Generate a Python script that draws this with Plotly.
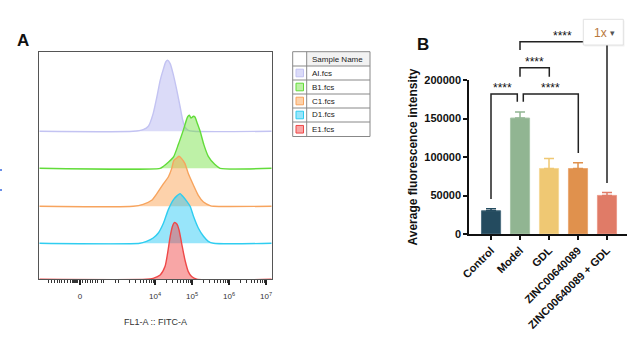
import math
import plotly.graph_objects as go

W, H = 634, 350

# ---------------- Panel A data (flow cytometry histograms) ----------------
samples = ["AI.fcs", "B1.fcs", "C1.fcs", "D1.fcs", "E1.fcs"]
# x in display decades (biexponential FL1-A scale), y = count
A_x = [3.41, 3.68, 3.82, 3.95, 4.05, 4.14, 4.23, 4.29, 4.34, 4.41, 4.50, 4.59, 4.68, 4.75, 4.81, 4.90, 5.04]
A_y = [0, 1.7, 5, 17.7, 34.3, 51, 62.7, 69.3, 71, 67.7, 56, 41, 24.3, 11, 4.3, 1, 0]
B_x = [4.14, 4.23, 4.36, 4.50, 4.63, 4.77, 4.88, 4.93, 4.97, 5.04, 5.08, 5.14, 5.22, 5.32, 5.44, 5.62, 5.76]
B_y = [0, 2, 6, 11.3, 23.7, 38.7, 51.3, 53, 50.3, 52, 51.3, 45.3, 37, 23.7, 12, 3.7, 0]
C_x = [3.41, 3.68, 3.91, 4.05, 4.23, 4.36, 4.45, 4.51, 4.59, 4.65, 4.72, 4.81, 4.90, 5.04, 5.17, 5.31, 5.49, 5.58]
C_y = [0, 2, 6, 12.7, 22.7, 29.3, 37.7, 46, 48.3, 50, 47.7, 42.7, 32.7, 21, 11, 4.3, 0.7, 0]
D_x = [3.59, 3.77, 3.95, 4.09, 4.23, 4.36, 4.50, 4.60, 4.68, 4.75, 4.86, 4.95, 5.04, 5.17, 5.31, 5.44, 5.58]
D_y = [0, 2, 5.3, 10.3, 20.3, 33.7, 43.7, 47.7, 49.7, 47, 42, 37, 27, 15.3, 7, 2, 0]
E_x = [3.77, 3.95, 4.14, 4.27, 4.34, 4.41, 4.47, 4.52, 4.59, 4.65, 4.72, 4.81, 4.90, 4.99, 5.13]
E_y = [0, 1, 4.3, 12.7, 26, 42.7, 52.7, 56.7, 55.3, 49.3, 36, 19.3, 7.7, 2.7, 0]
hist_x = [A_x, B_x, C_x, D_x, E_x]
hist_y = [A_y, B_y, C_y, D_y, E_y]

hist_tickvals = [1.97, 4, 5, 6, 7]
hist_ticktext = ["0", "10<sup>4</sup>", "10<sup>5</sup>", "10<sup>6</sup>", "10<sup>7</sup>"]

# ---------------- Panel B data (bar chart) ----------------
groups = ["Control", "Model", "GDL", "ZINC00640089", "ZINC00640089 + GDL"]
means = [30200, 150600, 85100, 85000, 50100]
errs = [2600, 7800, 12900, 7400, 3900]
sig_labels = ["****", "****", "****", "****"]

# ---------------- styles ----------------
line_cols = ["#c3c3f2", "#62dc3a", "#f7a45e", "#2fcdf0", "#ee4848"]
fill_cols = ["rgba(175,175,240,0.45)", "rgba(110,225,60,0.45)", "rgba(250,160,80,0.48)",
             "rgba(40,200,245,0.48)", "rgba(240,70,70,0.48)"]
offsets = [148, 111, 73, 36, 0]
bar_cols = ["#244b5f", "#91b592", "#efc873", "#e0914d", "#e07b67"]
bar_edge = ["#4d6f80", "#a9c6aa", "#f5d898", "#eaa874", "#eb9a8a"]

XMIN, XMAX = 0.873, 7.154
YTOP = 227.6


def px(x):
    return x / W


def py(y):
    return 1 - y / H


fig = go.Figure()

for i in range(5):
    xs = [XMIN] + hist_x[i] + [XMAX]
    ys = [offsets[i]] + [offsets[i] + v for v in hist_y[i]] + [offsets[i]]
    fig.add_trace(go.Scatter(
        x=xs, y=ys, mode="lines", fill="toself", fillcolor=fill_cols[i],
        line=dict(color=line_cols[i], width=1.4, shape="spline", smoothing=0.6),
        name=samples[i], showlegend=False, xaxis="x", yaxis="y", hoverinfo="skip"))

for i, g in enumerate(groups):
    fig.add_trace(go.Bar(
        x=[g], y=[means[i]], width=0.66,
        marker=dict(color=bar_cols[i], line=dict(color=bar_edge[i], width=1)),
        error_y=dict(type="data", array=[errs[i]], arrayminus=[0], symmetric=False,
                     color=bar_cols[i], thickness=1.5, width=5),
        showlegend=False, xaxis="x2", yaxis="y2", name=g))

# minor ticks of the biexponential axis
minor_px = [48, 51, 54, 57, 59, 61, 64, 67, 70, 72, 73, 74, 75, 76, 77, 82, 85, 87, 90, 92,
            95, 97, 101, 103, 115, 118]
minor_vals = [4 + (p - 155) / 37 for p in minor_px]
for d in [3, 4, 5, 6]:
    for k in range(2, 10):
        v = d + math.log10(k)
        if v < XMAX:
            minor_vals.append(v)

fig.update_layout(
    width=W, height=H, margin=dict(l=0, r=0, t=0, b=0, autoexpand=False),
    paper_bgcolor="white", plot_bgcolor="white",
    font=dict(family="Liberation Sans, Arial", color="#222"),
    barmode="overlay",
    xaxis=dict(domain=[px(39.3), px(271.7)], range=[XMIN, XMAX], showgrid=False, zeroline=False,
               showline=True, linecolor="#555", linewidth=1, mirror=True, automargin=False,
               tickmode="array", tickvals=hist_tickvals, ticktext=hist_ticktext,
               ticks="outside", ticklen=5, tickwidth=1.5, tickcolor="#222",
               tickfont=dict(size=8, color="#333"), ticklabelstandoff=4,
               minor=dict(tickmode="array", tickvals=minor_vals, ticks="outside",
                          ticklen=3, tickwidth=1, tickcolor="#333"),
               anchor="y", fixedrange=True),
    yaxis=dict(domain=[py(279.3), py(51.7)], range=[0, YTOP], showgrid=False, zeroline=False,
               showline=True, linecolor="#555", linewidth=1, mirror=True, automargin=False,
               showticklabels=False, ticks="", anchor="x"),
    xaxis2=dict(domain=[px(469), px(627)], range=[-0.76, 4.69], type="category",
                showline=True, linecolor="#111", linewidth=1.5, showgrid=False, zeroline=False,
                ticks="outside", ticklen=4, tickwidth=1.5, tickcolor="#111", automargin=False,
                tickangle=-45, tickfont=dict(size=11, color="#111", family="Liberation Sans, Arial",
                                             weight="bold"),
                anchor="y2"),
    yaxis2=dict(domain=[py(234), py(80)], range=[0, 200000], showline=True, linecolor="#111",
                linewidth=1.5, showgrid=False, zeroline=False, automargin=False,
                tickmode="array", tickvals=[0, 50000, 100000, 150000, 200000],
                ticktext=["0", "50000", "100000", "150000", "200000"],
                ticks="outside", ticklen=4, tickwidth=1.5, tickcolor="#111",
                tickfont=dict(size=11, color="#111", weight="bold"),
                title=dict(text="Average fluorescence intensity",
                           font=dict(size=12, color="#111", weight="bold"), standoff=4),
                anchor="x2"),
)

shapes = []
ann = []


def label(x, y, text, size, color="#111", xanchor="center"):
    ann.append(dict(x=px(x), y=py(y), text=text, showarrow=False, xref="paper", yref="paper",
                    xanchor=xanchor, yanchor="middle", font=dict(size=size, color=color)))


# panel letters and axis title of panel A
label(23, 41, "<b>A</b>", 17)
label(423, 45, "<b>B</b>", 17)
label(155, 322, "FL1-A :: FITC-A", 9, "#333")

# Sample-name table
tx0, tx1, tx2 = 292.7, 306.7, 370
row_edges = [51.7, 66, 80, 94, 108, 122, 136.5]
shapes.append(dict(type="rect", xref="paper", yref="paper", x0=px(tx1), x1=px(tx2),
                   y0=py(row_edges[1]), y1=py(row_edges[0]), fillcolor="#f2f2f2",
                   line=dict(width=0), layer="below"))
shapes.append(dict(type="rect", xref="paper", yref="paper", x0=px(tx0), x1=px(tx2),
                   y0=py(row_edges[-1]), y1=py(row_edges[0]), line=dict(color="#888", width=1)))
shapes.append(dict(type="line", xref="paper", yref="paper", x0=px(tx1), x1=px(tx1),
                   y0=py(row_edges[-1]), y1=py(row_edges[0]), line=dict(color="#888", width=1)))
for e in row_edges[1:-1]:
    shapes.append(dict(type="line", xref="paper", yref="paper", x0=px(tx0), x1=px(tx2),
                       y0=py(e), y1=py(e), line=dict(color="#888", width=1)))
label(310, 59, "Sample Name", 8, "#222", "left")
for i, s in enumerate(samples):
    cy = (row_edges[i + 1] + row_edges[i + 2]) / 2
    shapes.append(dict(type="rect", xref="paper", yref="paper", x0=px(296), x1=px(303.5),
                       y0=py(cy + 3.8), y1=py(cy - 3.8), fillcolor=fill_cols[i],
                       line=dict(color=line_cols[i], width=1)))
    label(310, cy, s, 8, "#222", "left")

# significance brackets (pixel geometry)
brackets = [
    # (x_left, x_right, y_bar, y_left_end, y_right_end, text_x, text_y)
    (491, 517.3, 94, 199, 101.7, 503, 87.5),
    (523.3, 578.3, 94, 101.7, 153, 550.7, 87.5),
    (520, 549.3, 67.7, 76.7, 76.7, 534.5, 61.5),
    (520, 607, 41.7, 50, 183, 562.7, 35.5),
]
for (xl, xr, yb, yl, yr, tx, ty), lab in zip(brackets, sig_labels):
    path = f"M {px(xl)} {py(yl)} L {px(xl)} {py(yb)} L {px(xr)} {py(yb)} L {px(xr)} {py(yr)}"
    shapes.append(dict(type="path", xref="paper", yref="paper", path=path,
                       line=dict(color="#222", width=1.5)))
    label(tx, ty, lab, 12, "#111")

# "1x" overlay button
shapes.append(dict(type="rect", xref="paper", yref="paper", x0=px(584.5), x1=px(624.5),
                   y0=py(46.5), y1=py(20.5), fillcolor="rgba(0,0,0,0.06)", line=dict(width=0)))
shapes.append(dict(type="rect", xref="paper", yref="paper", x0=px(583.3), x1=px(623.3),
                   y0=py(45), y1=py(19.3), fillcolor="white", line=dict(color="#e2e2e2", width=1)))
label(600, 32.5, "1x", 12, "#b8783a")
label(612, 32.5, "▾", 9, "#555")

# small blue marks at the left edge
for yy in (170, 190):
    shapes.append(dict(type="line", xref="paper", yref="paper", x0=0, x1=px(2),
                       y0=py(yy), y1=py(yy), line=dict(color="#6b8fe8", width=2)))

fig.update_layout(shapes=shapes, annotations=ann)
fig.write_html("out.html")
